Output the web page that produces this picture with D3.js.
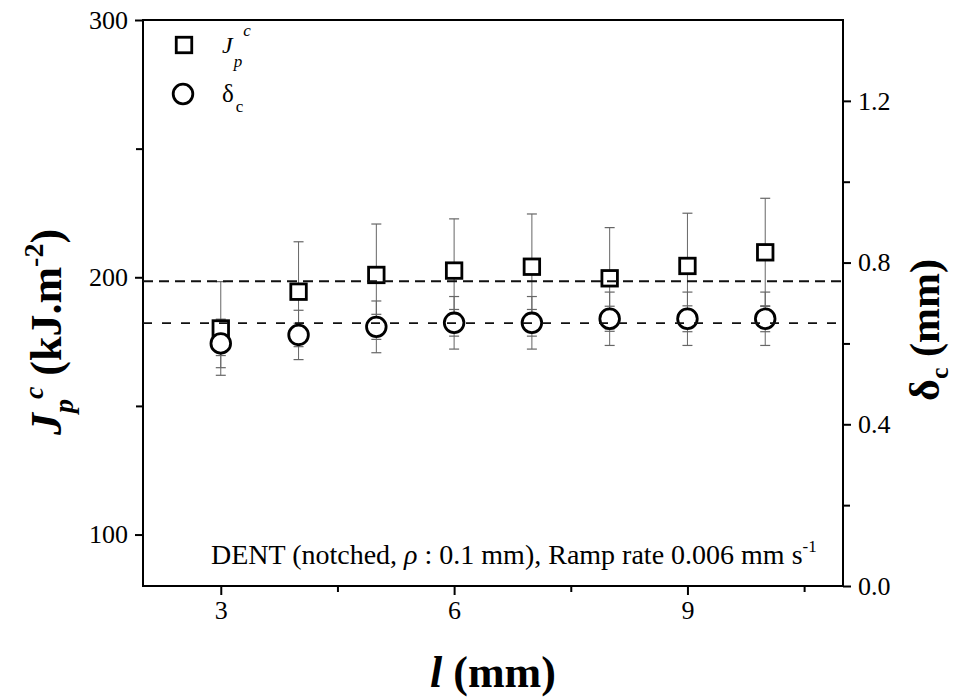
<!DOCTYPE html>
<html>
<head>
<meta charset="utf-8">
<script src="https://cdn.jsdelivr.net/npm/d3@7"></script>
<style>
  html, body { margin: 0; padding: 0; background: #fff; }
  svg { display: block; }
</style>
</head>
<body>
<svg id="chart" width="962" height="697"></svg>
<script>
// ---- Data ----
const lengths = [3, 4, 5, 6, 7, 8, 9, 10];                 // l (mm)
const jpc = [180.1, 194.4, 200.9, 202.6, 204.1, 199.6, 204.4, 209.7];   // Jp^c (kJ.m^-2)
const jpcErr = [18.2, 19.4, 19.8, 20.1, 20.5, 19.7, 20.5, 21.0];
const deltaC = [0.600, 0.621, 0.641, 0.651, 0.651, 0.661, 0.661, 0.661]; // δc (mm)
const deltaErrOuter = [0.060, 0.061, 0.064, 0.065, 0.065, 0.066, 0.066, 0.066];
const deltaErrInner = [0.030, 0.029, 0.031, 0.033, 0.033, 0.031, 0.032, 0.032];
const jpcMean = 198.5;
const deltaMean = 0.65;

const xTicks = [3, 6, 9];
const xMinorTicks = [4.5, 7.5, 10.5];
const yLeftTicks = [100, 200, 300];
const yLeftMinorTicks = [150, 250];
const yRightTicks = [0, 0.4, 0.8, 1.2];
const yRightMinorTicks = [0.2, 0.6, 1.0];

const annotationText = ["DENT (notched, ", "ρ", " : 0.1 mm), Ramp rate 0.006 mm s", "-1"];

// ---- Layout ----
const W = 962, H = 697;
const m = { left: 143, right: 119, top: 20, bottom: 111 };
const x0 = m.left, x1 = W - m.right, y0 = m.top, y1 = H - m.bottom;
const FONT = "'Liberation Serif', 'Times New Roman', serif";

const svg = d3.select("#chart");

const x = d3.scaleLinear().domain([2, 11]).range([x0, x1]);
const yL = d3.scaleLinear().domain([80, 300]).range([y1, y0]);
const yR = d3.scaleLinear().domain([0, 1.4]).range([y1, y0]);

function styleAxis(g) {
  g.select(".domain").remove();
  g.selectAll(".tick line").attr("stroke", "#000").attr("stroke-width", 2);
  g.selectAll(".tick text").attr("font-family", FONT).attr("font-size", 26).attr("fill", "#000");
}

// Axes: major
svg.append("g").attr("transform", `translate(0,${y1})`)
  .call(d3.axisBottom(x).tickValues(xTicks).tickSize(9).tickPadding(6).tickFormat(d3.format("d")))
  .call(styleAxis);
svg.append("g").attr("transform", `translate(0,${y1})`)
  .call(d3.axisBottom(x).tickValues(xMinorTicks).tickSize(6).tickFormat(""))
  .call(styleAxis);

svg.append("g").attr("transform", `translate(${x0},0)`)
  .call(d3.axisLeft(yL).tickValues(yLeftTicks).tickSize(8).tickPadding(7).tickFormat(d3.format("d")))
  .call(styleAxis);
svg.append("g").attr("transform", `translate(${x0},0)`)
  .call(d3.axisLeft(yL).tickValues(yLeftMinorTicks).tickSize(7).tickFormat(""))
  .call(styleAxis);

svg.append("g").attr("transform", `translate(${x1},0)`)
  .call(d3.axisRight(yR).tickValues(yRightTicks).tickSize(8).tickPadding(7).tickFormat(d3.format(".1f")))
  .call(styleAxis);
svg.append("g").attr("transform", `translate(${x1},0)`)
  .call(d3.axisRight(yR).tickValues(yRightMinorTicks).tickSize(7).tickFormat(""))
  .call(styleAxis);

// Frame
svg.append("rect")
  .attr("x", x0).attr("y", y0).attr("width", x1 - x0).attr("height", y1 - y0)
  .attr("fill", "none").attr("stroke", "#000").attr("stroke-width", 2);

const plot = svg.append("g");
const capW = 5;
const errColor = "#666";

function errBar(g, cx, yTop, yBot) {
  g.append("line").attr("x1", cx).attr("x2", cx).attr("y1", yTop).attr("y2", yBot)
    .attr("stroke", errColor).attr("stroke-width", 1);
  [yTop, yBot].forEach(yy => g.append("line")
    .attr("x1", cx - capW).attr("x2", cx + capW).attr("y1", yy).attr("y2", yy)
    .attr("stroke", errColor).attr("stroke-width", 1.2));
}
function cap(g, cx, yy) {
  g.append("line").attr("x1", cx - capW).attr("x2", cx + capW).attr("y1", yy).attr("y2", yy)
    .attr("stroke", errColor).attr("stroke-width", 1.2);
}

const errG = plot.append("g");
lengths.forEach((l, i) => {
  const cx = x(l);
  errBar(errG, cx, yL(jpc[i] + jpcErr[i]), yL(jpc[i] - jpcErr[i]));
  errBar(errG, cx, yR(deltaC[i] + deltaErrOuter[i]), yR(deltaC[i] - deltaErrOuter[i]));
  cap(errG, cx, yR(deltaC[i] + deltaErrInner[i]));
  cap(errG, cx, yR(deltaC[i] - deltaErrInner[i]));
});

// Markers
const sq = 15.5, r = 9.8, mw = 2.8;
plot.append("g").selectAll("rect").data(lengths).join("rect")
  .attr("x", d => x(d) - sq / 2).attr("y", (d, i) => yL(jpc[i]) - sq / 2)
  .attr("width", sq).attr("height", sq)
  .attr("fill", "#fff").attr("stroke", "#000").attr("stroke-width", mw);
plot.append("g").selectAll("circle").data(lengths).join("circle")
  .attr("cx", d => x(d)).attr("cy", (d, i) => yR(deltaC[i])).attr("r", r)
  .attr("fill", "#fff").attr("stroke", "#000").attr("stroke-width", mw);

// Mean dashed lines
plot.append("line").attr("x1", x0).attr("x2", x1).attr("y1", yL(jpcMean)).attr("y2", yL(jpcMean))
  .attr("stroke", "#111").attr("stroke-width", 2).attr("stroke-dasharray", "10,6");
plot.append("line").attr("x1", x0).attr("x2", x1).attr("y1", yR(deltaMean)).attr("y2", yR(deltaMean))
  .attr("stroke", "#111").attr("stroke-width", 1.7).attr("stroke-dasharray", "9,10");

// Legend
const leg = svg.append("g").attr("font-family", FONT).attr("fill", "#000");
leg.append("rect").attr("x", 184 - sq / 2).attr("y", 45 - sq / 2).attr("width", sq).attr("height", sq)
  .attr("fill", "#fff").attr("stroke", "#000").attr("stroke-width", mw);
leg.append("circle").attr("cx", 183).attr("cy", 94).attr("r", r)
  .attr("fill", "#fff").attr("stroke", "#000").attr("stroke-width", mw);
const l1 = leg.append("text").attr("x", 222).attr("y", 53).attr("font-size", 24);
l1.append("tspan").attr("font-style", "italic").text("J");
l1.append("tspan").attr("font-style", "italic").attr("font-size", 17).attr("dx", 1).attr("dy", 14).text("p");
l1.append("tspan").attr("font-style", "italic").attr("font-size", 17).attr("dx", 1).attr("dy", -31).text("c");
const l2 = leg.append("text").attr("x", 222).attr("y", 102).attr("font-size", 25);
l2.append("tspan").text("δ");
l2.append("tspan").attr("font-size", 17).attr("dx", 2).attr("dy", 10).text("c");

// Annotation
const ann = svg.append("text").attr("x", 211).attr("y", 564)
  .attr("font-family", FONT).attr("font-size", 28).attr("fill", "#000");
ann.append("tspan").text(annotationText[0]);
ann.append("tspan").attr("font-style", "italic").text(annotationText[1]);
ann.append("tspan").text(annotationText[2]);
ann.append("tspan").attr("font-size", 17).attr("dy", -12).text(annotationText[3]);

// Axis titles
const xt = svg.append("text").attr("x", (x0 + x1) / 2).attr("y", 687).attr("text-anchor", "middle")
  .attr("font-family", FONT).attr("font-size", 44).attr("font-weight", "bold").attr("fill", "#000");
xt.append("tspan").attr("font-style", "italic").text("l");
xt.append("tspan").text(" (mm)");

const ylt = svg.append("text").attr("transform", "translate(61,332) rotate(-90)").attr("text-anchor", "middle")
  .attr("font-family", FONT).attr("font-size", 44).attr("font-weight", "bold").attr("fill", "#000");
ylt.append("tspan").attr("font-style", "italic").text("J");
ylt.append("tspan").attr("font-style", "italic").attr("font-size", 28).attr("dy", 12).text("p");
ylt.append("tspan").attr("font-style", "italic").attr("font-size", 28).attr("dy", -30).text("c");
ylt.append("tspan").attr("dy", 18).text(" (kJ.m");
ylt.append("tspan").attr("font-size", 28).attr("dy", -18).text("-2");
ylt.append("tspan").attr("dy", 18).text(")");

const yrt = svg.append("text").attr("transform", "translate(939,330) rotate(-90)").attr("text-anchor", "middle")
  .attr("font-family", FONT).attr("font-size", 42).attr("font-weight", "bold").attr("fill", "#000");
yrt.append("tspan").text("δ");
yrt.append("tspan").attr("font-size", 26).attr("dy", 9).text("c");
yrt.append("tspan").attr("dy", -9).text(" (mm)");
</script>
</body>
</html>
